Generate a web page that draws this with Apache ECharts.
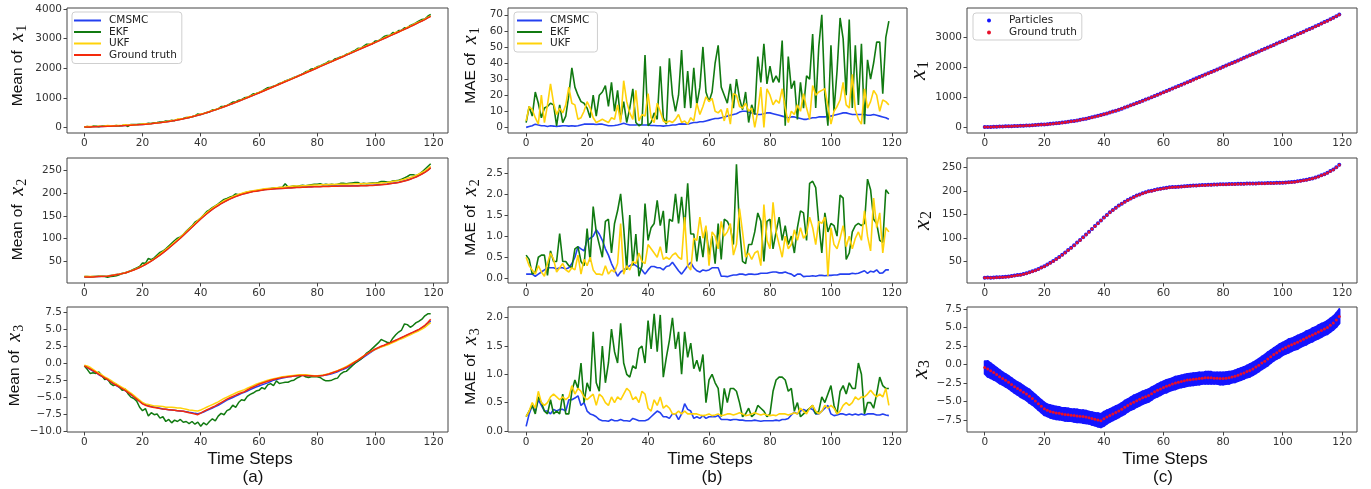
<!DOCTYPE html>
<html>
<head>
<meta charset="utf-8">
<title>CMSMC vs EKF vs UKF</title>
<script src="https://cdn.jsdelivr.net/npm/echarts/dist/echarts.min.js"></script>
<style>
  html, body { margin: 0; padding: 0; background: #fff; }
  #main { width: 1371px; height: 489px; }
</style>
</head>
<body>
<div id="main"></div>
<script>
// ---- data (time steps 0..119) ----
var gtX1 = [20,23,26,30,33,36,40,43,47,50, 54,58,62,67,71,76,82,88,94,101,
  108,116,125,134,145,156,168,181,194,209, 224,241,259,278,298,320,342,366,391,417,
  443,472,502,533,565,598,632,667,703,740, 777,814,852,890,929,968,1008,1048,1088,1128,
  1169,1210,1251,1293,1334,1376,1418,1460,1502,1544, 1586,1628,1670,1713,1755,1798,1840,1883,1925,1968,
  2011,2054,2097,2140,2183,2226,2269,2312,2355,2398, 2441,2484,2527,2570,2613,2656,2699,2742,2785,2828,
  2871,2914,2958,3002,3046,3090,3134,3178,3223,3268, 3313,3358,3404,3450,3497,3544,3592,3641,3697,3750];
var cmsmcMeanX1 = [20,24,27,32,35,37,41,44,48,51, 55,59,63,68,72,77,83,89,96,103,
  110,118,127,136,147,158,170,182,195,210, 226,243,262,280,300,322,344,368,393,419,
  445,473,503,534,566,599,633,668,705,742, 779,816,854,892,932,971,1011,1052,1092,1132,
  1174,1215,1257,1299,1340,1383,1425,1468,1510,1553, 1596,1638,1680,1723,1764,1807,1848,1891,1934,1977,
  2020,2063,2105,2148,2190,2233,2275,2319,2362,2404, 2447,2489,2532,2576,2619,2662,2706,2749,2792,2835,
  2878,2922,2966,3011,3055,3099,3143,3186,3231,3276, 3321,3366,3412,3458,3505,3552,3599,3648,3703,3755];
var ekfMeanX1 = [23,36,19,52,48,30,52,56,62,64, 55,72,59,74,91,39,107,108,110,116,
  120,122,145,141,165,178,194,194,222,219, 247,236,275,281,310,344,345,365,393,462,
  444,475,511,528,603,604,634,710,723,750, 797,862,864,925,941,1005,1022,1073,1138,1150,
  1185,1232,1291,1344,1359,1396,1433,1487,1514,1574, 1604,1639,1692,1716,1769,1806,1884,1911,1977,1995,
  2049,2082,2129,2168,2237,2227,2313,2336,2384,2403, 2469,2496,2559,2600,2671,2668,2749,2812,2805,2829,
  2922,2924,2993,3070,3101,3110,3201,3190,3274,3282, 3365,3360,3446,3480,3537,3597,3645,3662,3753,3816];
var ukfMeanX1 = [24,36,37,36,35,56,43,57,74,65, 62,70,71,81,96,91,96,93,100,111,
  124,128,131,137,149,161,172,184,200,214, 238,244,288,294,307,325,365,370,399,424,
  464,478,505,548,575,602,635,671,706,745, 785,817,856,892,935,972,1023,1056,1101,1147,
  1185,1228,1261,1302,1345,1380,1430,1462,1523,1564, 1599,1640,1685,1723,1767,1798,1850,1908,1925,1992,
  2031,2068,2114,2155,2207,2238,2272,2322,2363,2412, 2451,2505,2539,2575,2639,2676,2721,2765,2809,2841,
  2873,2924,2971,3019,3074,3104,3146,3211,3234,3273, 3315,3382,3416,3466,3520,3564,3602,3658,3713,3764];

var gtX2 = [16,16,16,16,16.5,17,17,17.5,18,19, 20,21,22,23.5,25,27,29,31.5,34,37,
  40,43.5,47,51,55,59.5,64,69,74,79, 84.5,90,95.5,101,107,113,119,125,131,137,
  143,148.5,154,159,164,168.5,172.5,176.5,180,183.5, 186.5,189.5,192,194.5,196.5,198.5,200,201.5,203,204,
  205,206,207,207.5,208,208.5,209,209.5,210,210.5, 211,211,211.5,212,212,212.5,212.5,213,213,213.5,
  213.5,213.5,214,214,214,214.5,214.5,214.5,215,215, 215,215,215.5,215.5,215.5,216,216,216,216.5,216.5,
  217,217.5,218,218.5,219,220,221,222,223,224.5, 226,228,230,232.5,235,238,241.5,245,249.5,255];
var cmsmcMeanX2 = [16,16.5,16,16.5,17,17,17.5,18,18.5,19.5, 20.5,21.5,22.5,24,25.5,27.5,29.5,32,34.5,37.5,
  40.5,44,47.5,51.5,55.5,60,64.5,69.5,74.5,79.5, 85,90.5,96,101.5,107.5,113.5,119.5,125.5,131.5,137.5,
  143.5,149,154.5,159.5,164.5,169,173,177,180.5,184, 187,190,192.5,195,197,199,200.5,202,203.5,204.5,
  205.5,206.5,207.5,208,208.5,209,209.5,210,210.5,211, 211.5,211.5,212,212.5,212.5,213,213,213.5,213.5,214,
  214,214,214.5,214.5,214.5,215,215,215,215.5,215.5, 215.5,215.5,216,216,216,216.5,216.5,216.5,217,217,
  217.5,218,218.5,219,219.5,220.5,221.5,222.5,223.5,225, 226.5,228.5,230.5,233,235.5,238.5,242,245.5,250,255.5];
var ekfMeanX2 = [17,17,16.5,17,17.5,18,18,17,15.5,17, 18,19,21,24,25,27,30,33,36,39,
  47,46,57,54,58,64,70,73,78,84, 90,96,101,104,109,116,122,128,136,140,
  145,152,159,163,168,172,176,181,186,188, 191,193,198,196,198,200,202,203,204,205,
  206,207,208,209,210,211,211,212,212,220, 213,214,215,214,216,217,216,217,218,219,
  219,220,218,219,218,219,218,219,221,221, 220,221,222,223,223,220,221,220,221,222,
  222,223,225,225,224,224,226,227,228,230, 233,236,240,240,238,241,246,252,258,264];
var ukfMeanX2 = [17,17,17,17,17,17.5,17.5,18,18.5,19.5, 20.5,21.5,22.5,24,25.5,27.5,29.5,32,34.5,37.5,
  41,44.5,48,52,56,61,66,71,76,81, 86.5,92,97.5,103,109,115,121,127,133,139,
  145,151,156.5,161.5,166.5,171,175,179,183,186, 189,192,194.5,197,199,201,202.5,204,205,206,
  207,208,209,209.5,210,211,211.5,212,212.5,213, 214,214,215,215,215.5,216,216,216.5,217,217.5,
  217.5,218,218,218,218.5,218.5,218.5,219,219,219, 219,219.5,219.5,220,220,220,220,220.5,220.5,220.5,
  221,221.5,222,222.5,223,224,225,226,227,228.5, 230,232,234,236,238.5,241.5,245,248.5,253,258];

var gtX3 = [-0.4,-0.6,-0.85,-1.1,-1.35,-1.65,-1.9,-2.15,-2.4,-2.7, -3.0,-3.25,-3.5,-3.75,-4.0,-4.3,-4.6,-4.95,-5.3,-5.65,
  -6.0,-6.2,-6.35,-6.45,-6.55,-6.6,-6.7,-6.75,-6.8,-6.85, -6.9,-6.95,-7.0,-7.05,-7.1,-7.2,-7.3,-7.4,-7.5,-7.6,
  -7.35,-7.1,-6.9,-6.7,-6.5,-6.3,-6.05,-5.8,-5.55,-5.3, -5.1,-4.9,-4.7,-4.5,-4.35,-4.2,-3.95,-3.7,-3.5,-3.3,
  -3.1,-2.95,-2.8,-2.65,-2.5,-2.4,-2.3,-2.2,-2.1,-2.05, -2.0,-1.95,-1.9,-1.85,-1.8,-1.8,-1.8,-1.85,-1.85,-1.9,
  -1.9,-1.85,-1.8,-1.7,-1.6,-1.45,-1.3,-1.15,-0.95,-0.8, -0.6,-0.35,-0.1,0.2,0.45,0.75,1.05,1.35,1.6,1.85,
  2.1,2.3,2.5,2.65,2.85,3.0,3.2,3.4,3.6,3.8, 4.0,4.2,4.4,4.6,4.8,5.0,5.3,5.6,6.0,6.5];
var cmsmcMeanX3 = [-0.4,-0.65,-0.9,-1.15,-1.4,-1.7,-1.95,-2.2,-2.45,-2.75, -3.0,-3.3,-3.55,-3.8,-4.05,-4.35,-4.6,-4.95,-5.3,-5.6,
  -5.95,-6.1,-6.25,-6.35,-6.45,-6.55,-6.65,-6.75,-6.8,-6.85, -6.9,-6.95,-7.0,-7.05,-7.1,-7.15,-7.25,-7.3,-7.4,-7.45,
  -7.35,-7.2,-7.0,-6.8,-6.6,-6.4,-6.2,-5.95,-5.7,-5.45, -5.25,-5.05,-4.85,-4.65,-4.45,-4.3,-4.1,-3.9,-3.7,-3.5,
  -3.35,-3.2,-3.05,-2.9,-2.7,-2.5,-2.4,-2.3,-2.2,-2.1, -2.0,-1.95,-1.9,-1.85,-1.8,-1.8,-1.8,-1.85,-1.85,-1.9,
  -1.9,-1.85,-1.8,-1.75,-1.65,-1.55,-1.4,-1.25,-1.05,-0.9, -0.7,-0.5,-0.25,0.0,0.3,0.6,0.9,1.2,1.5,1.8,
  2.05,2.25,2.45,2.6,2.8,2.95,3.15,3.35,3.55,3.75, 3.95,4.15,4.35,4.55,4.75,4.95,5.2,5.5,5.85,6.25];
var ekfMeanX3 = [-0.4,-0.9,-1.5,-1.4,-1.5,-1.3,-1.8,-2.4,-2.3,-3.0, -3.3,-3.1,-3.5,-4.0,-3.8,-4.5,-5.0,-5.2,-5.6,-6.5,
  -7.0,-6.7,-7.8,-7.3,-7.6,-7.5,-8.1,-7.9,-8.6,-8.3, -8.8,-8.4,-8.6,-8.3,-8.7,-8.6,-8.9,-8.6,-9.0,-8.7,
  -9.3,-8.8,-9.1,-8.6,-8.2,-8.5,-7.8,-7.4,-7.6,-7.0, -6.8,-6.2,-6.5,-5.8,-5.4,-5.5,-4.9,-4.6,-4.4,-4.1,
  -4.0,-3.6,-3.8,-3.2,-3.0,-3.3,-2.6,-3.0,-2.9,-2.8, -2.8,-2.6,-2.5,-2.2,-2.0,-1.7,-2.0,-2.1,-2.0,-2.0,
  -2.0,-2.1,-2.4,-2.6,-2.6,-2.5,-2.3,-2.2,-1.6,-1.3, -1.2,-0.8,-0.4,0.0,0.3,0.6,1.0,1.5,1.8,2.2,
  2.6,3.0,3.5,3.3,3.1,3.0,3.7,4.2,4.6,4.9, 5.8,5.7,5.3,5.6,6.0,6.2,6.5,7.0,7.3,7.3];
var ukfMeanX3 = [-0.3,-0.4,-0.6,-0.9,-1.2,-1.45,-1.7,-2.0,-2.25,-2.5, -2.8,-3.05,-3.3,-3.55,-3.8,-4.1,-4.4,-4.75,-5.1,-5.45,
  -5.8,-6.0,-6.1,-6.2,-6.3,-6.3,-6.35,-6.4,-6.5,-6.5, -6.5,-6.55,-6.6,-6.6,-6.7,-6.8,-6.9,-6.95,-7.0,-7.05,
  -6.9,-6.7,-6.5,-6.3,-6.1,-5.9,-5.7,-5.45,-5.2,-5.0, -4.8,-4.6,-4.4,-4.2,-4.05,-3.9,-3.7,-3.5,-3.3,-3.1,
  -2.95,-2.8,-2.65,-2.5,-2.4,-2.3,-2.2,-2.1,-2.0,-1.95, -1.9,-1.85,-1.8,-1.75,-1.7,-1.7,-1.7,-1.75,-1.8,-1.85,
  -1.85,-1.8,-1.75,-1.65,-1.55,-1.4,-1.25,-1.1,-0.9,-0.7, -0.5,-0.25,0.0,0.25,0.5,0.8,1.1,1.35,1.6,1.85,
  2.05,2.25,2.4,2.55,2.7,2.85,3.05,3.25,3.45,3.6, 3.8,4.0,4.2,4.4,4.6,4.8,5.05,5.3,5.65,6.0];

var cmsmcMaeX1 = [0,0.5,1,2,1.5,1,1,0.5,1,0.8, 0.5,0.8,1,1,0.8,1,0.8,1,1.5,2,
  2,2,2,1.8,2,2,1.5,1,1,1.2, 1.5,2,2.5,2,1.5,1.5,1.5,1.8,1.5,1.5,
  1.5,1.2,1.2,1,1,0.8,1,1.2,1.5,1.5, 2,2.2,2,2,2.5,3,3,3.5,3.5,4,
  4.5,5,5.5,5.5,6,6.5,7,7.5,8,8.5, 9.5,10,10,9.5,9,8.5,8,8,8.5,9,
  9,8.5,8,7.5,7,6.5,6,6.5,6.5,6, 5.5,5,5,5.5,6,6,6.5,6.5,6.5,7,
  7,7.5,8,8.5,9,9,8.5,8,8,8, 8,8,7.5,7.5,8,7.5,7,6.5,6,5];
var ekfMaeX1 = [3,13,7,22,15,6,12,13,15,14, 1,14,3,7,20,37,25,20,16,15,
  12,6,20,7,20,22,26,13,28,10, 23,5,16,3,12,24,3,1,2,45,
  1,3,9,5,38,6,2,43,20,10, 20,48,12,35,12,37,14,25,50,22,
  16,22,40,51,25,20,15,27,12,30, 18,11,22,3,14,8,44,28,52,27,
  38,28,32,28,54,1,44,24,29,5, 28,12,32,30,58,12,50,70,20,1,
  51,10,35,68,55,20,67,12,51,14, 52,2,42,30,40,53,53,21,56,66];
var ukfMaeX1 = [4,13,11,6,2,20,3,14,27,15, 8,12,9,14,25,15,14,5,6,10,
  16,12,6,3,4,5,4,3,6,5, 14,3,29,16,9,5,23,4,8,7,
  21,6,3,15,10,4,3,4,3,5, 8,3,4,2,6,4,15,8,13,19,
  16,18,10,9,11,4,12,2,21,20, 13,12,15,10,12,0,10,25,0,24,
  20,14,17,15,24,12,3,10,8,14, 10,21,12,5,26,20,22,23,24,13,
  2,10,13,17,28,14,12,33,11,5, 2,24,12,16,23,20,10,17,16,14];

var cmsmcMaeX2 = [0.1,0.1,0.1,0.05,0.1,0.15,0.2,0.25,0.25,0.25, 0.22,0.25,0.25,0.22,0.25,0.35,0.5,0.75,0.7,0.65,
  0.9,0.95,1.0,1.15,1.05,0.9,0.7,0.55,0.35,0.2, 0.05,0.15,0.2,0.25,0.3,0.35,0.3,0.25,0.2,0.1,
  0.2,0.28,0.28,0.25,0.25,0.2,0.28,0.3,0.38,0.28, 0.18,0.1,0.2,0.3,0.38,0.25,0.18,0.15,0.2,0.18,
  0.2,0.25,0.25,0.25,0.05,0.05,0.04,0.06,0.08,0.08, 0.1,0.1,0.08,0.1,0.1,0.09,0.1,0.12,0.12,0.12,
  0.14,0.15,0.15,0.13,0.13,0.15,0.12,0.1,0.05,0.1, 0.1,0.04,0.05,0.05,0.06,0.05,0.07,0.07,0.06,0.07,
  0.07,0.08,0.08,0.1,0.1,0.1,0.1,0.12,0.11,0.12, 0.15,0.18,0.12,0.17,0.15,0.2,0.12,0.13,0.2,0.2];
var ekfMaeX2 = [0.55,0.45,0.1,0.15,0.5,0.55,0.55,0.07,0.65,0.4, 0.4,1.06,0.4,0.4,0.3,0.25,0.7,0.75,0.4,0.3,
  1.18,0.4,1.7,1.1,0.8,0.5,1.35,1.4,0.6,1.3, 1.6,2.0,1.2,0.2,1.5,0.3,1.05,0.05,0.3,1.77,
  0.9,1.2,1.3,1.85,1.25,1.6,0.6,1.4,1.35,2.0, 1.3,1.93,1.2,2.25,1.05,1.05,0.4,1.0,0.5,1.2,
  0.55,1.0,0.35,1.3,0.45,1.4,1.35,1.2,0.8,2.7, 1.2,0.4,0.35,0.8,0.8,1.1,1.55,1.35,0.4,1.35,
  1.4,0.7,1.1,1.45,0.9,1.25,0.8,1.0,0.6,1.2, 1.6,1.55,0.9,2.25,2.3,2.15,1.3,0.6,1.55,1.1,
  1.3,1.25,1.0,1.97,1.9,0.45,0.6,1.1,1.25,1.3, 1.25,1.3,2.35,2.1,1.4,1.3,0.9,0.85,2.1,2.0];
var ukfMaeX2 = [0.5,0.3,0.2,0.1,0.3,0.15,0.05,0.35,0.6,0.45, 0.15,0.25,0.35,0.2,0.15,0.25,0.2,0.55,0.1,0.45,
  0.3,0.5,0.2,0.1,0.1,0.08,0.3,0.1,0.2,0.15, 0.35,1.3,0.1,0.3,0.2,0.4,0.35,0.6,0.4,0.35,
  0.8,0.7,0.6,0.5,0.75,0.45,0.5,0.45,0.55,0.6, 0.5,0.45,1.45,0.3,0.2,0.95,0.9,1.45,0.95,1.25,
  0.3,1.1,1.0,0.7,1.35,1.0,1.1,1.3,0.55,0.8, 1.65,1.1,0.5,0.6,0.45,0.6,0.65,0.3,1.75,0.9,
  0.7,1.8,1.1,0.8,0.5,1.0,0.7,0.8,1.15,0.9, 1.2,0.95,1.05,1.45,1.2,0.8,1.35,1.3,1.45,0.05,
  1.2,0.8,0.7,0.95,1.25,0.75,1.0,0.7,0.95,1.1, 0.9,1.6,1.0,0.65,1.9,1.2,1.55,0.6,1.2,1.1];

var cmsmcMaeX3 = [0.08,0.3,0.45,0.35,0.55,0.45,0.35,0.35,0.3,0.38, 0.35,0.38,0.38,0.35,0.55,0.55,0.58,0.62,0.45,0.5,
  0.35,0.3,0.28,0.25,0.2,0.18,0.18,0.17,0.2,0.18, 0.18,0.2,0.18,0.18,0.17,0.22,0.2,0.18,0.18,0.18,
  0.2,0.25,0.3,0.35,0.32,0.25,0.25,0.22,0.3,0.3, 0.2,0.3,0.48,0.38,0.35,0.22,0.25,0.22,0.27,0.22,
  0.25,0.25,0.25,0.27,0.2,0.2,0.2,0.19,0.2,0.2, 0.19,0.19,0.18,0.18,0.18,0.19,0.18,0.17,0.18,0.18,
  0.18,0.18,0.19,0.18,0.2,0.2,0.22,0.28,0.33,0.3, 0.35,0.38,0.35,0.4,0.38,0.3,0.3,0.35,0.4,0.45,
  0.3,0.27,0.28,0.3,0.3,0.28,0.3,0.28,0.3,0.28, 0.3,0.28,0.3,0.3,0.3,0.28,0.28,0.3,0.28,0.27];
var ekfMaeX3 = [0.25,0.35,0.45,0.3,0.6,0.5,0.35,0.3,0.55,0.3, 0.35,0.3,0.65,0.3,0.3,0.7,0.9,0.75,1.2,0.5,
  0.85,0.7,1.75,0.85,0.7,1.5,0.85,1.2,1.8,1.4, 1.2,1.9,1.2,1.0,0.95,1.15,1.1,1.45,1.5,1.2,
  1.95,1.45,2.07,1.4,2.05,0.95,1.3,1.6,2.0,1.45, 1.75,1.0,1.75,1.3,1.55,1.1,1.25,1.05,1.35,0.5,
  0.9,1.0,0.85,0.75,0.25,0.75,0.5,0.75,0.75,0.7, 0.5,0.25,0.3,0.4,0.25,0.3,0.45,0.4,0.35,0.25,
  0.3,0.7,0.9,0.95,0.95,0.9,0.7,0.75,0.35,0.5, 0.25,0.3,0.35,0.4,0.45,0.3,0.35,0.6,0.5,0.65,
  0.8,0.45,0.3,0.7,0.8,0.65,0.85,0.75,0.75,1.2, 1.0,0.3,0.5,0.5,0.4,0.65,0.95,0.8,0.75,0.75];
var ukfMaeX3 = [0.25,0.35,0.5,0.4,0.7,0.5,0.45,0.5,0.6,0.65, 0.6,0.55,0.6,0.55,0.6,0.8,0.65,0.75,0.7,0.6,
  0.55,0.6,0.65,0.45,0.65,0.6,0.5,0.45,0.6,0.5, 0.6,0.55,0.65,0.75,0.7,0.55,0.6,0.5,0.7,0.65,
  0.4,0.35,0.55,0.45,0.6,0.4,0.45,0.4,0.3,0.3, 0.35,0.3,0.35,0.3,0.3,0.3,0.3,0.28,0.27,0.28,
  0.3,0.27,0.28,0.3,0.27,0.28,0.3,0.3,0.28,0.3, 0.32,0.3,0.27,0.28,0.3,0.32,0.3,0.28,0.3,0.28,
  0.27,0.28,0.27,0.3,0.3,0.3,0.28,0.3,0.32,0.3, 0.4,0.35,0.3,0.4,0.45,0.35,0.3,0.35,0.45,0.4,
  0.45,0.4,0.3,0.35,0.45,0.5,0.45,0.5,0.6,0.55, 0.6,0.6,0.65,0.72,0.65,0.6,0.65,0.6,0.75,0.45];

// half width of the particle cloud around the ground truth for x3 (panel c)
var particleSpreadX3 = [0.85,1.05,1.0,0.95,0.9,0.9,0.85,0.85,0.85,0.85, 0.85,0.85,0.9,0.85,0.85,0.9,0.85,0.85,0.85,0.85,
  0.85,0.8,0.85,0.85,0.85,0.85,0.8,0.85,0.85,0.8, 0.85,0.85,0.8,0.85,0.85,0.8,0.85,0.85,0.9,0.9,
  0.95,0.9,0.85,0.85,0.85,0.85,0.85,0.9,0.85,0.85, 0.9,0.85,0.85,0.85,0.85,0.85,0.85,0.8,0.85,0.85,
  0.8,0.85,0.8,0.8,0.85,0.8,0.8,0.8,0.8,0.8, 0.8,0.8,0.8,0.75,0.8,0.8,0.8,0.75,0.75,0.8,
  0.8,0.8,0.8,0.75,0.8,0.8,0.8,0.8,0.8,0.85, 0.85,0.85,0.85,0.85,0.85,0.9,0.85,0.85,0.85,0.9,
  0.85,0.85,0.9,0.85,0.85,0.9,0.85,0.85,0.9,0.85, 0.9,0.85,0.9,0.9,0.85,0.9,0.9,0.9,0.95,0.95];

// tick labels
var xTicks = [0, 20, 40, 60, 80, 100, 120];
var yTicksMeanX1 = [0, 1000, 2000, 3000, 4000];
var yTicksMeanX2 = [50, 100, 150, 200, 250];
var yTicksMeanX3 = [-10, -7.5, -5, -2.5, 0, 2.5, 5, 7.5];
var yTicksMaeX1 = [0, 10, 20, 30, 40, 50, 60, 70];
var yTicksMaeX2 = [0, 0.5, 1, 1.5, 2, 2.5];
var yTicksMaeX3 = [0, 0.5, 1, 1.5, 2];
var yTicksPartX1 = [0, 1000, 2000, 3000];
var yTicksPartX2 = [50, 100, 150, 200, 250];
var yTicksPartX3 = [-7.5, -5, -2.5, 0, 2.5, 5, 7.5];

var legendMethods = ['CMSMC', 'EKF', 'UKF', 'Ground truth'];
var panelLetters = ['(a)', '(b)', '(c)'];

// ---- layout ----
var colLeft = [67, 508, 967];
var colWidth = [381, 399, 390];
var rowTop = [8, 158, 307];
var rowHeight = 125;

var C_BLUE = '#2440f0', C_GREEN = '#117a11', C_GOLD = '#ffd20a', C_RED = '#f42a0c';
var C_PART = '#1414ff', C_DOT = '#e8102a';

var steps = Array.from({ length: 120 }, function (_, i) { return i; });
function pairs(values) {
  return values.map(function (v, i) { return [steps[i], v]; });
}

// panels: col, row, y range, ticks, decimals, name prefix, subscript
var panels = [
  { col: 0, row: 0, ymin: -180, ymax: 4030, ticks: yTicksMeanX1, dec: 0, pre: 'Mean of  ', sub: '1', shift: 10 },
  { col: 0, row: 1, ymin: 3, ymax: 276.5, ticks: yTicksMeanX2, dec: 0, pre: 'Mean of  ', sub: '2', shift: 2 },
  { col: 0, row: 2, ymin: -10.15, ymax: 8.3, ticks: yTicksMeanX3, dec: 1, pre: 'Mean of  ', sub: '3', shift: 8 },
  { col: 1, row: 0, ymin: -3.5, ymax: 74.2, ticks: yTicksMaeX1, dec: 0, pre: 'MAE of  ', sub: '1', shift: 10 },
  { col: 1, row: 1, ymin: -0.11, ymax: 2.85, ticks: yTicksMaeX2, dec: 1, pre: 'MAE of  ', sub: '2', shift: 6 },
  { col: 1, row: 2, ymin: -0.02, ymax: 2.19, ticks: yTicksMaeX3, dec: 1, pre: 'MAE of  ', sub: '3', shift: 6 },
  { col: 2, row: 0, ymin: -176, ymax: 3973, ticks: yTicksPartX1, dec: 0, pre: '', sub: '1', shift: 0 },
  { col: 2, row: 1, ymin: 4.8, ymax: 269.7, ticks: yTicksPartX2, dec: 0, pre: '', sub: '2', shift: 0 },
  { col: 2, row: 2, ymin: -9.13, ymax: 7.77, ticks: yTicksPartX3, dec: 1, pre: '', sub: '3', shift: 0 }
];

function fmt(dec) {
  return function (v) {
    var s = Math.abs(v).toFixed(dec);
    return (v < 0 ? '\u2212' : '') + s;
  };
}

var grids = [], xAxes = [], yAxes = [];
panels.forEach(function (p) {
  grids.push({
    left: colLeft[p.col], top: rowTop[p.row], width: colWidth[p.col], height: rowHeight,
    show: true, borderColor: '#444', borderWidth: 1, backgroundColor: 'transparent'
  });
  var gi = grids.length - 1;
  xAxes.push({
    type: 'value', gridIndex: gi, min: -5.95, max: 124.95,
    axisLine: { show: false, onZero: false },
    axisTick: { show: true, length: 3.5, lineStyle: { color: '#444' }, customValues: xTicks },
    axisLabel: { customValues: xTicks, fontSize: 10.5, color: '#333', margin: 5, fontFamily: 'DejaVu Sans' },
    splitLine: { show: false }
  });
  var isC = p.col === 2;
  yAxes.push({
    type: 'value', gridIndex: gi, min: p.ymin, max: p.ymax,
    axisLine: { show: false, onZero: false },
    axisTick: { show: true, length: 3.5, lineStyle: { color: '#444' }, customValues: p.ticks },
    axisLabel: { customValues: p.ticks, fontSize: 10.5, color: '#333', margin: 5,
      fontFamily: 'DejaVu Sans', formatter: fmt(p.dec) },
    splitLine: { show: false },
    name: (p.pre ? '{m|' + p.pre + '}' : '') + '{x|x}{s|' + p.sub + '}',
    nameLocation: 'middle', nameRotate: 90,
    nameGap: p.col === 0 ? 38 : (p.col === 1 ? 26 : 33),
    nameTextStyle: {
      padding: [0, 0, 0, p.shift],
      rich: {
        m: { fontFamily: 'Liberation Sans', fontSize: 15.5, color: '#111', lineHeight: 22 },
        x: { fontFamily: 'Liberation Serif', fontStyle: 'italic', fontSize: isC ? 23 : 20, color: '#111', lineHeight: 22 },
        s: { fontFamily: 'Liberation Serif', fontSize: isC ? 16 : 14, color: '#111', lineHeight: 14, padding: [8, 0, 0, 1] }
      }
    }
  });
});

function line(name, values, color, gi, width) {
  return {
    name: name, type: 'line', xAxisIndex: gi, yAxisIndex: gi, data: pairs(values),
    color: color, symbol: 'none', showSymbol: false,
    lineStyle: { width: width || 1.5, color: color }, animation: false
  };
}
function dots(name, values, color, gi, size) {
  return {
    name: name, type: 'scatter', xAxisIndex: gi, yAxisIndex: gi, data: pairs(values),
    color: color, symbol: 'circle', symbolSize: size, animation: false,
    itemStyle: { color: color, opacity: 1 }
  };
}

var series = [];
// (a) means
[[cmsmcMeanX1, ekfMeanX1, ukfMeanX1, gtX1], [cmsmcMeanX2, ekfMeanX2, ukfMeanX2, gtX2],
 [cmsmcMeanX3, ekfMeanX3, ukfMeanX3, gtX3]].forEach(function (set, r) {
  series.push(line('CMSMC', set[0], C_BLUE, r, 1.5));
  series.push(line('EKF', set[1], C_GREEN, r, 1.5));
  series.push(line('UKF', set[2], C_GOLD, r, 1.5));
  series.push(line('Ground truth', set[3], C_RED, r, 1.5));
});
// (b) MAE
[[cmsmcMaeX1, ekfMaeX1, ukfMaeX1], [cmsmcMaeX2, ekfMaeX2, ukfMaeX2],
 [cmsmcMaeX3, ekfMaeX3, ukfMaeX3]].forEach(function (set, r) {
  series.push(line('CMSMC', set[0], C_BLUE, 3 + r, 1.6));
  series.push(line('EKF', set[1], C_GREEN, 3 + r, 1.6));
  series.push(line('UKF', set[2], C_GOLD, 3 + r, 1.6));
});
// (c) particles
series.push(dots('Particles', cmsmcMeanX1, C_PART, 6, 4));
series.push(dots('Ground truth', gtX1, C_DOT, 6, 3));
series.push(dots('Particles', cmsmcMeanX2, C_PART, 7, 4));
series.push(dots('Ground truth', gtX2, C_DOT, 7, 3));
// x3 particle cloud: a band from (truth - spread) to (truth + spread), one quad per step
var cloudX3 = gtX3.map(function (v, i) {
  return [steps[i], v - particleSpreadX3[i], v + particleSpreadX3[i]];
});
series.push({
  name: 'Particles', type: 'custom', xAxisIndex: 8, yAxisIndex: 8, animation: false,
  data: cloudX3,
  encode: { x: 0, y: [1, 2] },
  renderItem: function (params, api) {
    var i = params.dataIndex;
    var cur = cloudX3[i];
    var nxt = cloudX3[Math.min(i + 1, cloudX3.length - 1)];
    var pts = [
      api.coord([cur[0], cur[1]]), api.coord([nxt[0], nxt[1]]),
      api.coord([nxt[0], nxt[2]]), api.coord([cur[0], cur[2]])
    ];
    return {
      type: 'polygon',
      shape: { points: pts },
      style: { fill: C_PART, stroke: C_PART, lineWidth: 2, lineJoin: 'round' }
    };
  }
});
series.push(dots('Ground truth', gtX3, C_DOT, 8, 3));

var legendBase = {
  orient: 'vertical', selectedMode: false, icon: 'rect', itemWidth: 27, itemHeight: 2,
  itemGap: 0.5, borderColor: '#cfcfcf', borderWidth: 1, borderRadius: 3,
  backgroundColor: 'rgba(255,255,255,0.85)',
  textStyle: { fontSize: 10.5, lineHeight: 11, color: '#222', fontFamily: 'DejaVu Sans', padding: [0, 0, 0, 3] }
};
function legend(extra) { return Object.assign({}, legendBase, extra); }

function caption(text, x, y) {
  return {
    type: 'text', x: x, y: y,
    style: { text: text, font: '17px "Liberation Sans"', fill: '#111',
      align: 'center', verticalAlign: 'middle', textAlign: 'center', textVerticalAlign: 'middle' }
  };
}

var option = {
  backgroundColor: '#fff',
  animation: false,
  grid: grids,
  xAxis: xAxes,
  yAxis: yAxes,
  legend: [
    legend({ left: 72, top: 12, padding: [3, 5, 3, 2], data: legendMethods }),
    legend({ left: 514, top: 12, padding: [3, 8, 3, 3], itemWidth: 25, data: legendMethods.slice(0, 3) }),
    legend({ left: 973, top: 13, padding: [2, 5, 2, 14], itemWidth: 4, itemHeight: 4, itemGap: 1,
      textStyle: Object.assign({}, legendBase.textStyle, { padding: [0, 0, 0, 13] }),
      data: [
        { name: 'Particles', icon: 'circle', itemStyle: { color: C_PART } },
        { name: 'Ground truth', icon: 'circle', itemStyle: { color: C_DOT } }
      ] })
  ],
  graphic: [
    caption('Time Steps', 250, 459), caption('Time Steps', 710, 459), caption('Time Steps', 1165, 459),
    caption(panelLetters[0], 253, 477), caption(panelLetters[1], 712, 477), caption(panelLetters[2], 1163, 477)
  ],
  series: series
};

var chart = echarts.init(document.getElementById('main'), null, { renderer: 'canvas' });
chart.setOption(option);
</script>
</body>
</html>
